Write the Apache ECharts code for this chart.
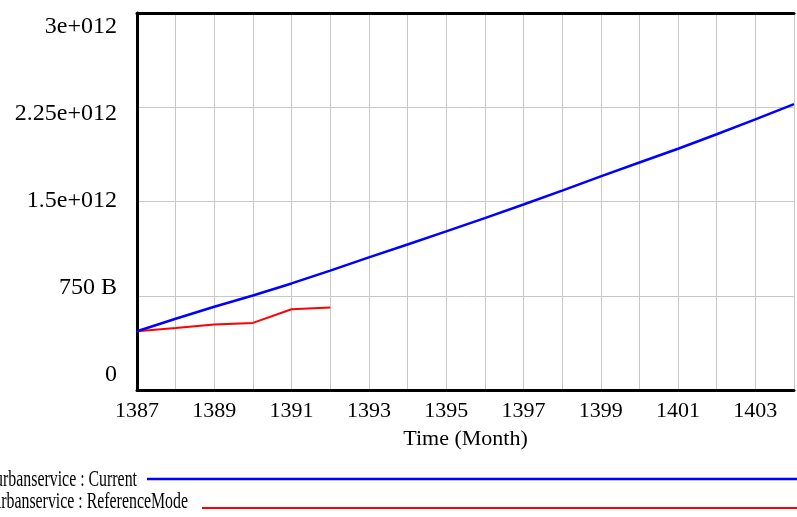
<!DOCTYPE html>
<html><head><meta charset="utf-8">
<script src="https://cdn.jsdelivr.net/npm/echarts@6/dist/echarts.min.js"></script>
<style>html,body{margin:0;padding:0;background:#fff}#c{width:797px;height:517px}</style>
</head><body><div id="c"></div>
<script>
// values in billions
const years = [1387,1388,1389,1390,1391,1392,1393,1394,1395,1396,1397,1398,1399,1400,1401,1402,1403,1404];
const currentValues = [468,567,663,752,848,950,1055,1158,1262,1368,1476,1587,1700,1810,1920,2035,2153,2275];
const referenceYears = [1387,1388,1389,1390,1391,1392];
const referenceValues = [468,494,521,534,643,656];
const yTickLabels = ['0','750 B','1.5e+012','2.25e+012','3e+012'];
const xLabelYears = [1387,1389,1391,1393,1395,1397,1399,1401,1403];
const legendNames = ['urbanservice : Current','urbanservice : ReferenceMode'];

const serif = '"Liberation Serif", "Times New Roman", serif';
const chart = echarts.init(document.getElementById('c'), null, {renderer:'canvas'});
const gridLine = {show:true, lineStyle:{color:'#c8c8c8', width:1}};
chart.setOption({
  animation:false,
  backgroundColor:'#fff',
  grid:[
    {left:137, top:13, width:669, height:377},
    {left:137, top:26.5, width:669, height:348}
  ],
  xAxis:[
    {type:'value', gridIndex:0, min:1387, max:1404, interval:1, position:'bottom',
     axisLine:{show:true, lineStyle:{color:'#000', width:3}}, axisTick:{show:false},
     splitLine:gridLine,
     axisLabel:{formatter:v=>xLabelYears.includes(v)?String(v):'', fontFamily:serif, fontSize:22, color:'#000', margin:10},
     name:'Time (Month)', nameLocation:'middle', nameGap:38,
     nameTextStyle:{fontFamily:serif, fontSize:22, color:'#000'}},
    {type:'value', gridIndex:0, min:1387, max:1404, interval:1, position:'top',
     axisLine:{show:true, lineStyle:{color:'#000', width:3}}, axisTick:{show:false},
     axisLabel:{show:false}, splitLine:{show:false}},
    {type:'value', gridIndex:1, min:1387, max:1404, show:false}
  ],
  yAxis:[
    {type:'value', gridIndex:0, min:0, max:3000, interval:750,
     axisLine:{show:true, lineStyle:{color:'#000', width:3}}, axisTick:{show:false},
     axisLabel:{show:false}, splitLine:gridLine},
    {type:'value', gridIndex:1, min:0, max:3000, interval:750,
     axisLine:{show:false}, axisTick:{show:false}, splitLine:{show:false},
     axisLabel:{formatter:v=>yTickLabels[Math.round(v/750)], fontFamily:serif, fontSize:24, color:'#000', margin:20}}
  ],
  series:[
    {type:'line', name:legendNames[0], xAxisIndex:0, yAxisIndex:0, symbol:'none', z:4,
     data:years.map((y,i)=>[y,currentValues[i]]), lineStyle:{color:'#0000ff', width:2.5}},
    {type:'line', name:legendNames[1], xAxisIndex:0, yAxisIndex:0, symbol:'none', z:3,
     data:referenceYears.map((y,i)=>[y,referenceValues[i]]), lineStyle:{color:'#ff0000', width:2}}
  ],
  graphic:[
    {type:'text', x:137, y:480, scaleX:0.69, style:{text:legendNames[0], x:0, y:0, align:'right', verticalAlign:'middle', font:'23px '+serif, fill:'#000'}},
    {type:'line', shape:{x1:147,y1:479,x2:797,y2:479}, style:{stroke:'#0000ff', lineWidth:2.5}},
    {type:'text', x:188, y:501.5, scaleX:0.69, style:{text:legendNames[1], x:0, y:0, align:'right', verticalAlign:'middle', font:'23px '+serif, fill:'#000'}},
    {type:'line', shape:{x1:202,y1:508,x2:797,y2:508}, style:{stroke:'#ff0000', lineWidth:2}}
  ]
});
</script></body></html>
